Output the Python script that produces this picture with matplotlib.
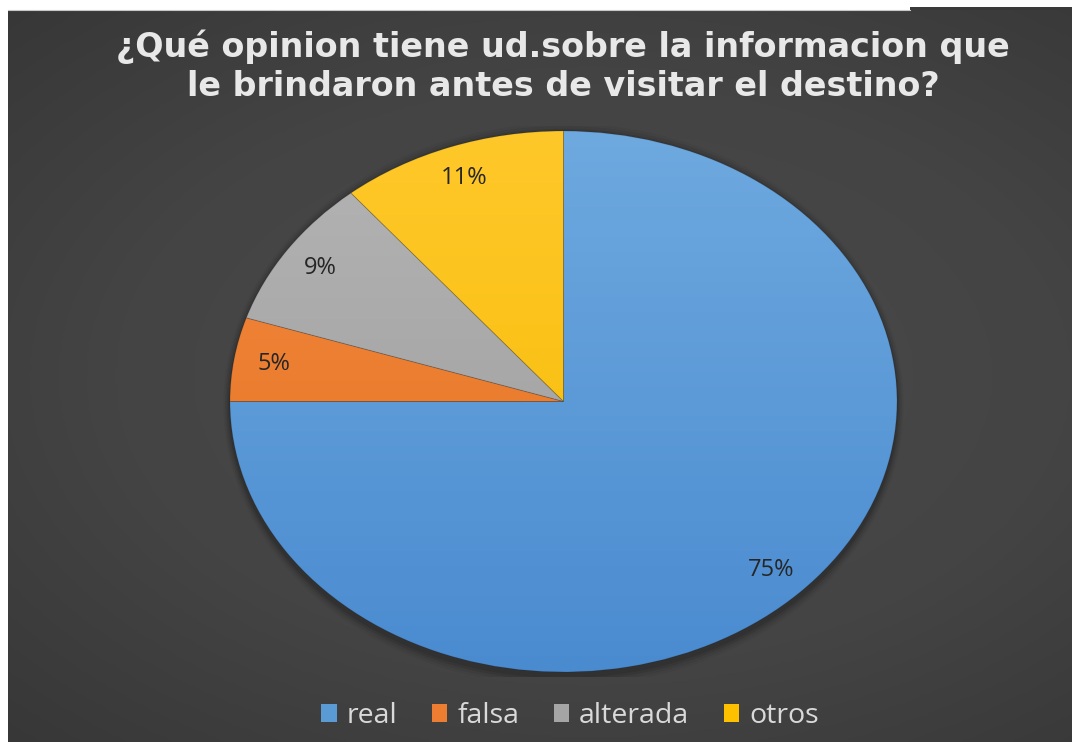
import numpy as np
import matplotlib
matplotlib.use("Agg")
import matplotlib.pyplot as plt
from matplotlib.colors import LinearSegmentedColormap
from matplotlib.patches import Ellipse, Rectangle

# Survey answers (percent of respondents)
categories = ["real", "falsa", "alterada", "otros"]
values = [75, 5, 9, 11]
title_lines = ["¿Qué opinion tiene ud.sobre la informacion que",
               "le brindaron antes de visitar el destino?"]

base_colors = ["#5b9bd5", "#ed7d31", "#a5a5a5", "#ffc000"]
light_colors = ["#6ea9df", "#f28a40", "#b4b4b4", "#ffc82a"]
dark_colors = ["#4a8bd0", "#e5701f", "#9a9a9a", "#f5bb00"]

W, H = 1072, 742
fig = plt.figure(figsize=(W / 100, H / 100), dpi=100, facecolor="white")

# dark chart area with a soft radial gradient
bg = fig.add_axes([8 / W, 0, (W - 8) / W, (H - 10) / H])
bg.set_axis_off()
yy, xx = np.mgrid[0:1:400j, 0:1:600j]
r = np.sqrt(((xx - 0.55) / 0.9) ** 2 + ((yy - 0.5) / 0.8) ** 2)
r = np.clip(r, 0, 1)
bg_cmap = LinearSegmentedColormap.from_list("bg", ["#4a4a4a", "#444444", "#333333"])
bg.imshow(r, cmap=bg_cmap, aspect="auto", extent=(0, 1, 0, 1), origin="lower",
          vmin=0, vmax=1, interpolation="bilinear")
bg.set_xlim(0, 1)
bg.set_ylim(0, 1)

# thin frame line of the top strip
fig.add_artist(plt.Line2D([8 / W, 910 / W], [1 - 10 / H, 1 - 10 / H],
                          color="#c8c8c8", lw=0.8, transform=fig.transFigure))
fig.add_artist(Rectangle((910 / W, 1 - 10 / H), 1 - 910 / W, 3 / H,
                         transform=fig.transFigure, color="#3a3a3a", lw=0))

# title
for i, line in enumerate(title_lines):
    fig.text(563 / W, 1 - (47 + 40 * i) / H, line, ha="center", va="center",
             fontsize=24, fontweight="bold", color="#e8e8e8",
             family="DejaVu Sans")

# pie (stretched horizontally like the original sheet)
ax = fig.add_axes([0, 0, 1, 1])
ax.set_axis_off()

# soft outer shadow
for k, a in enumerate([0.10, 0.08, 0.06, 0.04]):
    ax.add_patch(Ellipse((0.0, -0.012), 2.0 + 0.010 * (k + 1), 2.0 + 0.020 * (k + 1),
                         facecolor="black", alpha=a, lw=0, zorder=0))

wedges, texts, autotexts = ax.pie(
    values, labels=None, colors=base_colors, startangle=90, counterclock=False,
    autopct=lambda p: f"{p:.0f}%", pctdistance=0.88,
    wedgeprops=dict(edgecolor=(0, 0, 0, 0.12), linewidth=0.7),
    textprops=dict(fontsize=17, color="#262626", family="Open Sans"))

grad = np.linspace(0, 1, 256).reshape(-1, 1)
for w, c0, c1 in zip(wedges, dark_colors, light_colors):
    cm = LinearSegmentedColormap.from_list("g", [c0, c1])
    im = ax.imshow(grad, cmap=cm, extent=(-1, 1, -1, 1), origin="lower",
                   aspect="auto", zorder=w.get_zorder() + 0.01,
                   interpolation="bilinear")
    im.set_clip_path(w)
    w.set_zorder(w.get_zorder() + 0.05)
    w.set_facecolor("none")
for t in autotexts:
    t.set_zorder(5)

ax.set_xlim(-1.02, 1.02)
ax.set_ylim(-1.02, 1.02)
ax.set_aspect("auto")
ax.set_position([(230 - 0.02 * 333.5) / W, 1 - (672 + 0.02 * 270.5) / H,
                 667 * 1.02 / W, 541 * 1.02 / H])

# legend with square markers
handles = [Rectangle((0, 0), 1, 1, facecolor=c, edgecolor="none") for c in base_colors]
fig.legend(handles, categories, loc="center", bbox_to_anchor=(570 / W, 1 - 716 / H),
           ncol=4, frameon=False, labelcolor="#d9d9d9",
           handlelength=0.55, handleheight=0.55, handletextpad=0.35,
           columnspacing=1.2, prop=dict(family="Open Sans", size=20.5))

fig.savefig("out.png", dpi=100, facecolor="white")
